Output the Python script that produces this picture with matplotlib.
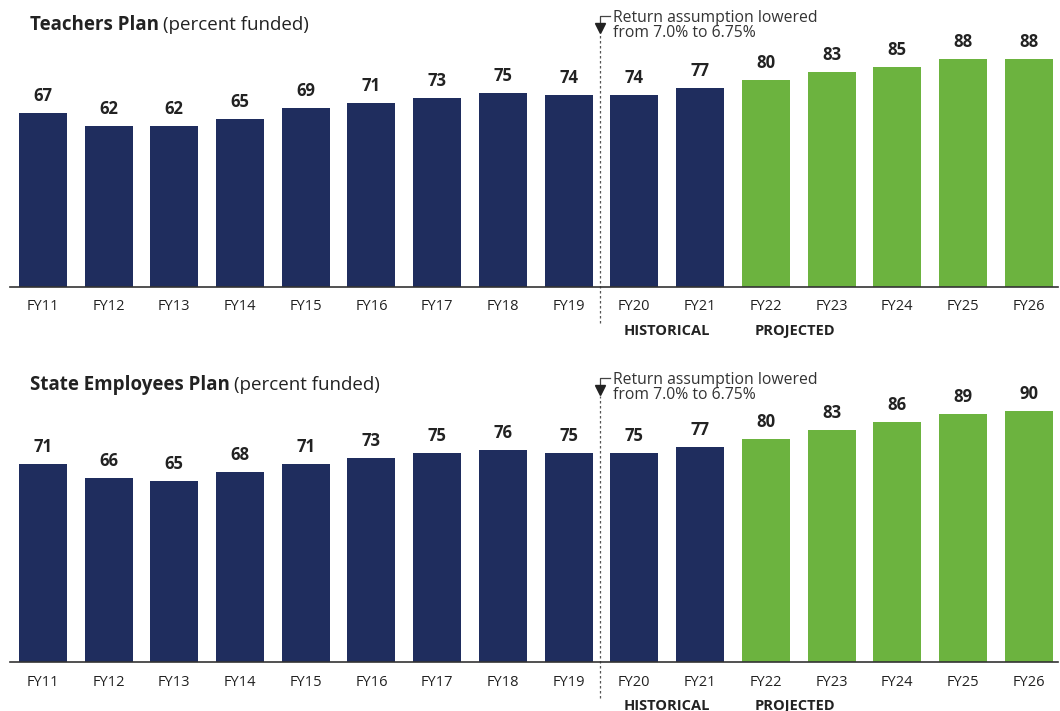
import matplotlib
matplotlib.use("Agg")
import matplotlib.pyplot as plt

years = ["FY11", "FY12", "FY13", "FY14", "FY15", "FY16", "FY17", "FY18",
         "FY19", "FY20", "FY21", "FY22", "FY23", "FY24", "FY25", "FY26"]
teachers = [67, 62, 62, 65, 69, 71, 73, 75, 74, 74, 77, 80, 83, 85, 88, 88]
state_emp = [71, 66, 65, 68, 71, 73, 75, 76, 75, 75, 77, 80, 83, 86, 89, 90]
n_hist = 11  # FY11-FY21 historical, rest projected

NAVY = "#1f2d5e"
GREEN = "#6cb33f"
plt.rcParams['font.family'] = ['Open Sans', 'DejaVu Sans']

fig = plt.figure(figsize=(10.6, 7.11), dpi=100)


def panel(rect, vals, ytop, ppu, bold_title, title_y):
    # ppu = pixels per data unit, used to place things in pixel offsets
    ax = fig.add_axes(rect)
    x = list(range(len(years)))
    cols = [NAVY if i < n_hist else GREEN for i in x]
    ax.bar(x, vals, width=0.73, color=cols)
    for i, v in enumerate(vals):
        ax.text(i, v + 8 / ppu, str(v), ha="center", va="bottom",
                fontsize=12, fontweight="bold", color="#222222")
    ax.set_xlim(-0.5, 15.45)
    ax.set_ylim(0, ytop)
    ax.set_xticks(x)
    ax.set_xticklabels(years, fontsize=10.5, color="#222222")
    ax.tick_params(axis="x", length=0, pad=9)
    ax.set_yticks([])
    for s in ["top", "right", "left"]:
        ax.spines[s].set_visible(False)
    ax.spines["bottom"].set_color("#333333")
    ax.spines["bottom"].set_linewidth(1.2)

    # divider line for return assumption change
    xd = 8.47
    l1 = ytop + 14 / ppu
    ax.plot([xd, xd], [-36 / ppu, l1 - 18 / ppu], ls=(0, (2, 2)),
            color="#555555", lw=0.9, clip_on=False)
    ax.plot([xd, xd, xd + 0.16], [l1 - 6 / ppu, l1, l1],
            color="#444444", lw=0.9, clip_on=False)
    ax.plot([xd], [l1 - 12 / ppu], marker="v", color="#222222",
            markersize=7, clip_on=False)
    ax.text(xd + 0.2, l1 + 6 / ppu, "Return assumption lowered\nfrom 7.0% to 6.75%",
            ha="left", va="top", fontsize=11.3, color="#333333",
            linespacing=0.95, clip_on=False)

    ax.text(9.5, -44 / ppu, "HISTORICAL", ha="center", va="center",
            fontsize=10.5, fontweight="bold", color="#222222")
    ax.text(11.45, -44 / ppu, "PROJECTED", ha="center", va="center",
            fontsize=10.5, fontweight="bold", color="#222222")

    t = fig.text(0.028, title_y, bold_title, fontsize=13.5,
                 fontweight="bold", color="#222222", va="center")
    fig.canvas.draw()
    bb = t.get_window_extent()
    fig.text(bb.x1 / fig.bbox.width + 0.004, title_y, "(percent funded)",
             fontsize=13.5, color="#222222", va="center")
    return ax


panel([0.0094, 1 - 287 / 711, 0.989, 257 / 711], teachers, 257 / 2.59, 2.59,
      "Teachers Plan", 1 - 25 / 711)
panel([0.0094, 1 - 662 / 711, 0.989, 270 / 711], state_emp, 270 / 2.79, 2.79,
      "State Employees Plan", 1 - 385 / 711)

fig.savefig("out.png", dpi=100)
